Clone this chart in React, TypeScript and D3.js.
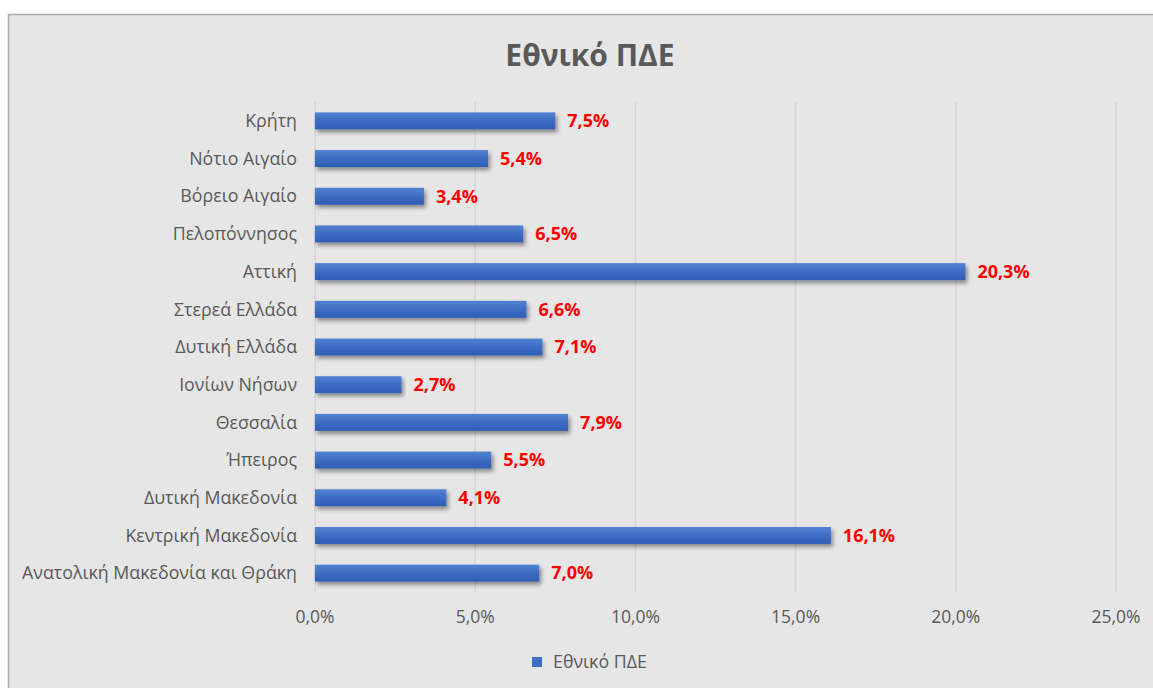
import React from "react";
import * as d3 from "d3";

const categories = [
  "Κρήτη",
  "Νότιο Αιγαίο",
  "Βόρειο Αιγαίο",
  "Πελοπόννησος",
  "Αττική",
  "Στερεά Ελλάδα",
  "Δυτική Ελλάδα",
  "Ιονίων Νήσων",
  "Θεσσαλία",
  "Ήπειρος",
  "Δυτική Μακεδονία",
  "Κεντρική Μακεδονία",
  "Ανατολική Μακεδονία και Θράκη",
];
const values = [7.5, 5.4, 3.4, 6.5, 20.3, 6.6, 7.1, 2.7, 7.9, 5.5, 4.1, 16.1, 7.0];
const xTicks = [0, 5, 10, 15, 20, 25];
const title = "Εθνικό ΠΔΕ";
const seriesName = "Εθνικό ΠΔΕ";

const W = 1153;
const H = 688;
const FONT = "'Open Sans', 'DejaVu Sans', sans-serif";
const fmt = (v: number) => v.toFixed(1).replace(".", ",") + "%";

export default function App() {
  const x = d3.scaleLinear().domain([0, 25]).range([315, 1116]);
  const y = d3.scaleBand<string>().domain(categories).range([102, 592]).paddingInner(0.55).paddingOuter(0.275);
  const bh = y.bandwidth();

  return (
    <svg
      width={W}
      height={H}
      style={{ position: "absolute", left: 0, top: 0, display: "block" }}
      fontFamily={FONT}
    >
      <defs>
        <linearGradient id="barGrad" x1="0" y1="0" x2="0" y2="1">
          <stop offset="0%" stopColor="#5282d2" />
          <stop offset="50%" stopColor="#3e6cc4" />
          <stop offset="100%" stopColor="#2f5db5" />
        </linearGradient>
        <filter id="shadow" x="-5%" y="-50%" width="110%" height="220%">
          <feGaussianBlur in="SourceAlpha" stdDeviation="2" />
          <feOffset dx="1.5" dy="3" result="ob" />
          <feComponentTransfer>
            <feFuncA type="linear" slope="0.42" />
          </feComponentTransfer>
          <feMerge>
            <feMergeNode />
            <feMergeNode in="SourceGraphic" />
          </feMerge>
        </filter>
      </defs>
      <rect x={0} y={0} width={W} height={H} fill="#ffffff" />
      <rect x={8.5} y={14.5} width={W + 20} height={H + 20} fill="#e6e6e6" stroke="#a9a9a9" strokeWidth={1.5} />

      <text x={590} y={55} dy="0.35em" textAnchor="middle" fontSize={30} fontWeight="bold" fill="#595959">
        {title}
      </text>

      {xTicks.map((t) => (
        <g key={t}>
          <line x1={x(t)} x2={x(t)} y1={102} y2={592} stroke="#d6d6d6" strokeWidth={1.5} />
          <text x={x(t)} y={617} dy="0.35em" textAnchor="middle" fontSize={17.5} fill="#595959">
            {fmt(t)}
          </text>
        </g>
      ))}

      {categories.map((c, i) => {
        const yy = y(c)!;
        return (
          <g key={c}>
            <rect
              x={x(0)}
              y={yy}
              width={x(values[i]) - x(0)}
              height={bh}
              fill="url(#barGrad)"
              filter="url(#shadow)"
            />
            <text x={297} y={yy + bh / 2} dy="0.35em" textAnchor="end" fontSize={17.8} fill="#595959">
              {c}
            </text>
            <text
              x={x(values[i]) + 12}
              y={yy + bh / 2}
              dy="0.35em"
              fontSize={18}
              fontWeight="bold"
              fill="#ff0000"
            >
              {fmt(values[i])}
            </text>
          </g>
        );
      })}

      <rect x={532} y={657} width={10} height={10} fill="#3e6cc4" />
      <text x={553} y={662} dy="0.35em" fontSize={17.8} fill="#595959">
        {seriesName}
      </text>
    </svg>
  );
}
